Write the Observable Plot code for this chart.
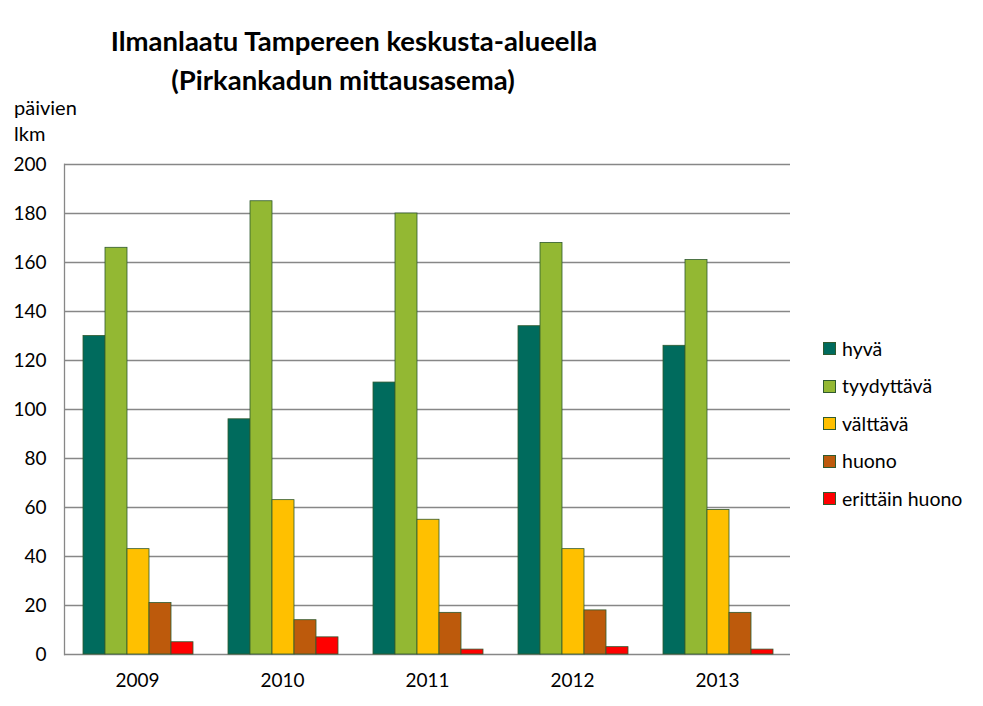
<!DOCTYPE html>
<html>
<head>
<meta charset="utf-8">
<script src="https://cdn.jsdelivr.net/npm/d3@7"></script>
<script src="https://cdn.jsdelivr.net/npm/@observablehq/plot@0.6"></script>
<style>
  html, body { margin: 0; padding: 0; background: #fff; }
  #wrap { position: relative; width: 983px; height: 706px; font-family: Lato, "Open Sans", sans-serif; color: #000; }
  #wrap > svg { position: absolute; left: 0; top: 0; }
  .title { position: absolute; width: 700px; text-align: center; font-weight: bold; font-size: 27.5px; line-height: 28px; white-space: nowrap; }
  .ylab { position: absolute; left: 14px; font-size: 20px; line-height: 20px; }
  .leg { position: absolute; left: 823px; font-size: 19.5px; line-height: 20px; white-space: nowrap; display: flex; align-items: center; }
  .sw { width: 11px; height: 11px; border: 1px solid #2f5a2f; margin-right: 6px; }
</style>
</head>
<body>
<div id="wrap"></div>
<script>
// ---- data ----
const years = ["2009", "2010", "2011", "2012", "2013"];
const series = ["hyvä", "tyydyttävä", "välttävä", "huono", "erittäin huono"];
const hyva = [130, 96, 111, 134, 126];
const tyydyttava = [166, 185, 180, 168, 161];
const valttava = [43, 63, 55, 43, 59];
const huono = [21, 14, 17, 18, 17];
const erittainHuono = [5, 7, 2, 3, 2];
const yTicks = [0, 20, 40, 60, 80, 100, 120, 140, 160, 180, 200];
const colors = ["#006B5D", "#93B833", "#FFC000", "#BD5A0C", "#FF0000"];
const titleLines = ["Ilmanlaatu Tampereen keskusta-alueella", "(Pirkankadun mittausasema)"];
const yLabelLines = ["päivien", "lkm"];

const valuesBySeries = [hyva, tyydyttava, valttava, huono, erittainHuono];
const table = [];
years.forEach((yr, i) => series.forEach((s, j) => table.push({year: yr, series: s, value: valuesBySeries[j][i]})));

const W = 983, H = 706;
const margins = {marginTop: 164, marginBottom: 52, marginLeft: 64, marginRight: 193};
const font = "Lato, 'Open Sans', sans-serif";
const wrap = document.getElementById("wrap");

// background: grid, axis line, tick labels
const bg = Plot.plot({
  width: W, height: H, ...margins,
  style: {fontFamily: font, fontSize: "19px", color: "#000", background: "transparent"},
  x: {type: "band", domain: years, paddingInner: 0.23, paddingOuter: 0.115},
  y: {domain: [0, 200]},
  marks: [
    Plot.ruleY(yTicks, {stroke: "#878787", strokeWidth: 1.3}),
    Plot.frame({anchor: "left", stroke: "#878787", strokeWidth: 1.3}),
    Plot.axisY({ticks: yTicks, tickSize: 0, tickPadding: 18, label: null, fill: "#000"}),
    Plot.axisX({tickSize: 0, tickPadding: 19, label: null, fill: "#000"})
  ]
});
wrap.appendChild(bg);

// foreground: grouped bars
const fg = Plot.plot({
  width: W, height: H, ...margins,
  style: {background: "transparent"},
  fx: {domain: years, padding: 0, axis: null, label: null},
  x: {domain: series, paddingInner: 0, paddingOuter: 0.74, axis: null},
  y: {domain: [0, 200], axis: null},
  color: {domain: series, range: colors},
  marks: [
    Plot.barY(table, {fx: "year", x: "series", y: "value", fill: "series", stroke: "#2f5a2f", strokeWidth: 0.8})
  ]
});
wrap.appendChild(fg);

// title
const titleCenters = [354, 343];
const titleTops = [27, 66];
titleLines.forEach((t, i) => {
  const d = document.createElement("div");
  d.className = "title";
  d.textContent = t;
  d.style.left = (titleCenters[i] - 350) + "px";
  d.style.top = titleTops[i] + "px";
  wrap.appendChild(d);
});

// y label
const yLabelTops = [97, 123];
yLabelLines.forEach((t, i) => {
  const d = document.createElement("div");
  d.className = "ylab";
  d.textContent = t;
  d.style.top = yLabelTops[i] + "px";
  wrap.appendChild(d);
});

// legend
series.forEach((s, i) => {
  const d = document.createElement("div");
  d.className = "leg";
  d.style.top = (338.5 + i * 37.5) + "px";
  const sw = document.createElement("span");
  sw.className = "sw";
  sw.style.background = colors[i];
  const tx = document.createElement("span");
  tx.textContent = s;
  d.appendChild(sw); d.appendChild(tx);
  wrap.appendChild(d);
});
</script>
</body>
</html>
